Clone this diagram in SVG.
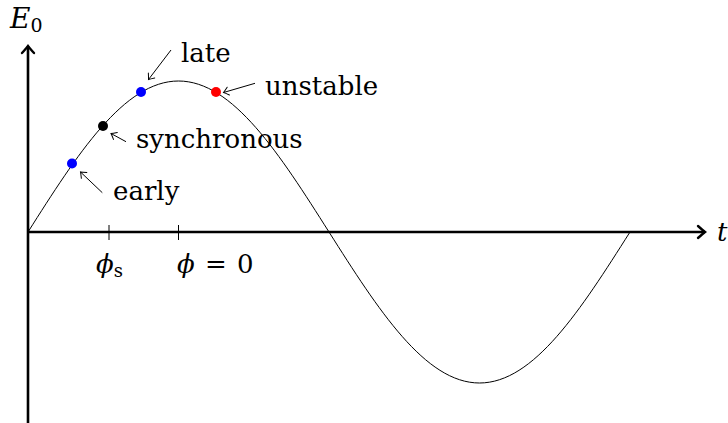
<svg xmlns="http://www.w3.org/2000/svg" width="728" height="423" viewBox="0 0 728 423">
<style>
text{font-family:"DejaVu Serif","Liberation Serif",serif;fill:#000}
.lbl{font-size:26px}
.it{font-style:italic}
.axis{stroke:#000;stroke-width:2.6;fill:none}
.thin{stroke:#000;stroke-width:1;fill:none}
</style>
<defs>
<marker id="ah" markerUnits="userSpaceOnUse" viewBox="-8 -6 10 12" refX="0" refY="0" markerWidth="10" markerHeight="12" orient="auto">
<path d="M-5,-4 Q-1.5,-1 0,0 Q-1.5,1 -5,4" fill="none" stroke="#000" stroke-width="1" stroke-linecap="round"/>
</marker>
<marker id="axh" markerUnits="userSpaceOnUse" viewBox="-10 -8 12 16" refX="0" refY="0" markerWidth="12" markerHeight="16" orient="auto">
<path d="M-7,-6 Q-2,-1.5 0,0 Q-2,1.5 -7,6" fill="none" stroke="#000" stroke-width="2.4" stroke-linecap="round"/>
</marker>
</defs>
<g id="connectors">
<line class="axis" x1="28" y1="423" x2="28" y2="46" marker-end="url(#axh)"/>
<line class="axis" x1="28" y1="232" x2="705" y2="232" marker-end="url(#axh)"/>
<line class="thin" x1="109" y1="225" x2="109" y2="240"/>
<line class="thin" x1="178.5" y1="225" x2="178.5" y2="240"/>
<path class="thin" d="M28,232 C77.08,154.64 124.03,81 178.5,81 C232.97,81 279.92,154.64 329,232 C378.08,309.36 425.03,383 479.5,383 C533.97,383 580.92,309.36 630,232"/>
<line class="thin" x1="171" y1="50" x2="148.5" y2="79.5" marker-end="url(#ah)"/>
<line class="thin" x1="255" y1="83.3" x2="223.5" y2="92.5" marker-end="url(#ah)"/>
<line class="thin" x1="126" y1="141.7" x2="111" y2="133.5" marker-end="url(#ah)"/>
<line class="thin" x1="102.3" y1="192.7" x2="80.5" y2="172" marker-end="url(#ah)"/>
</g>
<g id="dot-early"><circle cx="72" cy="163.5" r="5" fill="#0000ff"/></g>
<g id="dot-synchronous"><circle cx="103" cy="126" r="5" fill="#000"/></g>
<g id="dot-late"><circle cx="141" cy="92" r="5" fill="#0000ff"/></g>
<g id="dot-unstable"><circle cx="216" cy="92" r="5" fill="#ff0000"/></g>
<g id="label-late"><text class="lbl" x="181" y="62">late</text></g>
<g id="label-unstable"><text class="lbl" x="265" y="95">unstable</text></g>
<g id="label-synchronous"><text class="lbl" x="136" y="148">synchronous</text></g>
<g id="label-early"><text class="lbl" x="113" y="200">early</text></g>
<g id="label-E0"><text x="10" y="28" font-size="28"><tspan class="it">E</tspan><tspan font-size="19" dy="4">0</tspan></text></g>
<g id="label-t"><text class="lbl it" x="717" y="241">t</text></g>
<g id="label-phis"><text class="lbl" x="96" y="273"><tspan class="it">ϕ</tspan><tspan font-size="18" dy="4">s</tspan></text></g>
<g id="label-phi0"><text class="lbl" x="177" y="273" word-spacing="2"><tspan class="it">ϕ</tspan> = 0</text></g>
</svg>
